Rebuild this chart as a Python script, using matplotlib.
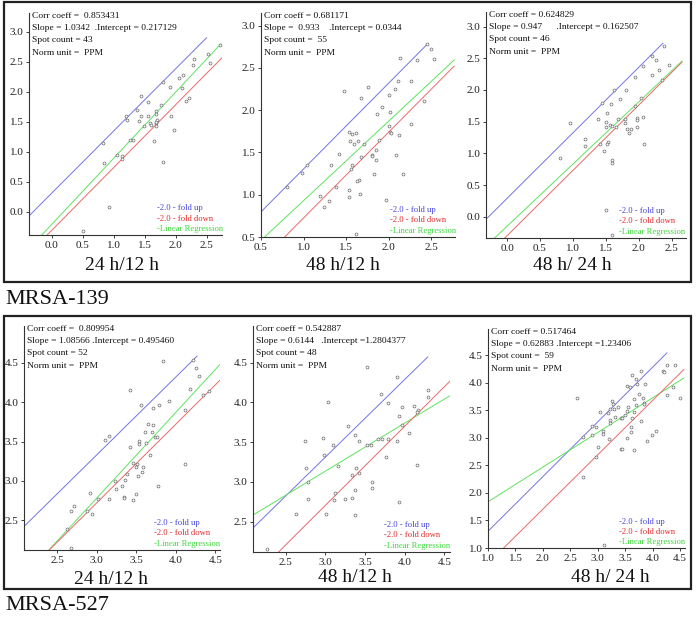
import numpy as np
import matplotlib
matplotlib.use('Agg')
import matplotlib.pyplot as plt
from matplotlib.patches import Rectangle

plt.rcParams['font.family'] = ['Liberation Serif', 'DejaVu Serif']

# ---- data ----
# MRSA-139, 24 h/12 h
p1_x = [2.72, 2.53, 2.55, 2.30, 2.28, 2.12, 2.06, 1.91, 1.79, 2.10, 1.44, 2.22, 2.17, 1.77, 1.56,
        1.38, 1.68, 1.68, 1.20, 1.21, 1.44, 1.56, 1.41, 1.70, 1.92, 1.49, 1.59, 1.61, 1.68, 1.69,
        1.97, 1.31, 1.26, 1.65, 0.82, 1.05, 1.13, 1.13, 0.84, 1.79, 0.93, 0.50, 1.69]
p1_y = [2.78, 2.62, 2.48, 2.54, 2.45, 2.28, 2.23, 2.08, 2.16, 2.06, 1.93, 1.90, 1.84, 1.78, 1.83,
        1.69, 1.68, 1.62, 1.59, 1.53, 1.59, 1.59, 1.51, 1.53, 1.59, 1.43, 1.47, 1.44, 1.47, 1.49,
        1.36, 1.20, 1.19, 1.17, 1.15, 0.94, 0.93, 0.88, 0.81, 0.82, 0.08, -0.32, 1.43]
# MRSA-139, 48 h/12 h
p2_x = [2.45, 2.50, 2.53, 2.13, 2.33, 1.48, 1.76, 1.68, 2.26, 2.11, 2.08, 2.00, 2.41, 1.92, 1.86,
        2.02, 2.01, 2.26, 2.02, 2.03, 1.54, 1.57, 1.62, 1.64, 1.55, 1.59, 1.71, 2.12, 1.89, 1.42,
        1.68, 1.81, 1.81, 1.85, 2.09, 1.85, 1.04, 0.98, 1.32, 1.57, 1.56, 1.83, 2.17, 1.38, 1.19,
        1.30, 1.24, 1.65, 1.63, 1.54, 1.54, 1.66, 1.97, 1.62, 0.81]
p2_y = [2.78, 2.72, 2.61, 2.62, 2.59, 2.23, 2.27, 2.14, 2.35, 2.34, 2.25, 2.18, 2.11, 2.04, 1.96,
        1.98, 1.81, 1.84, 1.74, 1.73, 1.74, 1.72, 1.73, 1.64, 1.63, 1.60, 1.60, 1.71, 1.65, 1.48,
        1.45, 1.47, 1.46, 1.41, 1.47, 1.53, 1.35, 1.26, 1.35, 1.35, 1.30, 1.25, 1.25, 1.09, 0.99,
        0.92, 0.86, 1.18, 1.16, 1.06, 0.97, 1.01, 0.94, 0.53, 1.09]
# MRSA-139, 48 h/ 24 h
p3_x = [2.39, 2.46, 2.21, 2.27, 2.31, 2.06, 2.21, 2.35, 1.95, 1.62, 1.81, 2.03, 1.71, 1.58, 1.45,
        1.95, 1.52, 0.96, 1.38, 1.68, 1.80, 1.98, 1.98, 2.06, 1.51, 1.56, 1.50, 1.60, 1.65, 1.79,
        1.83, 1.88, 1.85, 1.98, 1.19, 1.19, 1.41, 1.54, 1.52, 2.08, 1.47, 1.60, 1.59, 0.80, 1.50,
        1.59]
p3_y = [2.69, 2.40, 2.53, 2.47, 2.32, 2.38, 2.23, 2.16, 2.20, 2.00, 2.00, 1.88, 1.85, 1.78, 1.79,
        1.74, 1.64, 1.48, 1.54, 1.54, 1.54, 1.56, 1.53, 1.57, 1.50, 1.44, 1.42, 1.43, 1.41, 1.48,
        1.39, 1.39, 1.32, 1.42, 1.23, 1.12, 1.14, 1.18, 1.15, 1.14, 1.04, 0.90, 0.85, 0.93, 0.10,
        -0.29]
# MRSA-527, 24 h/12 h
p4_x = [4.22, 4.25, 4.30, 3.84, 3.42, 4.18, 4.34, 4.42, 3.56, 3.79, 3.91, 3.71, 4.12, 3.65, 3.71,
        3.61, 3.74, 3.76, 3.53, 3.54, 3.62, 3.15, 3.10, 3.42, 3.68, 3.46, 3.51, 3.50, 3.59, 3.52,
        3.57, 4.12, 3.38, 3.23, 3.36, 3.32, 3.24, 3.78, 3.50, 3.34, 3.35, 3.16, 3.46, 3.02, 2.91,
        2.71, 2.68, 2.88, 2.94, 2.62, 2.67, 3.70]
p4_y = [4.54, 4.43, 4.33, 4.52, 4.15, 4.17, 4.09, 4.14, 3.97, 3.97, 4.01, 3.93, 3.90, 3.72, 3.71,
        3.62, 3.56, 3.56, 3.51, 3.47, 3.48, 3.57, 3.52, 3.43, 3.33, 3.23, 3.21, 3.17, 3.18, 3.06,
        3.11, 3.22, 3.09, 3.00, 3.01, 2.94, 2.90, 2.93, 2.83, 2.80, 2.78, 2.77, 2.75, 2.77, 2.84,
        2.68, 2.61, 2.61, 2.58, 2.39, 2.15, 3.62]
# MRSA-527, 48 h/12 h
p5_x = [3.52, 3.90, 3.70, 3.03, 3.79, 3.96, 4.12, 4.29, 4.29, 4.17, 3.93, 3.96, 4.05, 3.28, 3.37,
        2.74, 2.97, 3.10, 3.42, 3.53, 3.58, 3.66, 3.71, 3.90, 3.77, 4.16, 2.99, 2.76, 3.16, 3.39,
        3.42, 3.33, 2.78, 3.59, 3.59, 3.37, 3.12, 3.11, 3.25, 3.34, 2.78, 3.93, 3.37, 3.01, 2.63,
        2.27, 3.79, 4.15]
p5_y = [4.45, 4.32, 4.11, 4.00, 3.99, 3.94, 3.96, 4.15, 4.07, 3.91, 3.83, 3.71, 3.61, 3.70, 3.59,
        3.51, 3.55, 3.47, 3.51, 3.46, 3.47, 3.54, 3.54, 3.51, 3.32, 3.21, 3.34, 3.18, 3.20, 3.17,
        3.11, 3.09, 3.00, 3.00, 2.93, 2.90, 2.86, 2.77, 2.78, 2.80, 2.78, 2.75, 2.58, 2.60, 2.60,
        2.16, 3.54, 3.88]
# MRSA-527, 48 h/ 24 h
p6_x = [4.26, 4.40, 4.18, 4.20, 3.78, 3.63, 3.69, 3.72, 3.87, 3.53, 3.59, 4.38, 4.27, 4.49, 3.75,
        3.83, 2.63, 3.66, 3.85, 3.84, 3.69, 3.55, 3.26, 3.28, 3.05, 3.22, 3.29, 3.36, 3.18, 3.53,
        3.66, 3.63, 3.49, 3.42, 3.45, 3.23, 3.31, 3.22, 2.90, 2.96, 3.09, 3.10, 3.60, 3.60, 3.78,
        2.90, 2.73, 3.20, 3.53, 3.00, 3.42, 3.44, 3.66, 3.89, 4.06, 3.98, 2.96, 2.73, 3.11]
p6_y = [4.32, 4.32, 4.22, 4.20, 4.21, 4.15, 4.07, 3.98, 3.98, 3.95, 3.93, 3.93, 3.78, 3.73, 3.79,
        3.73, 3.73, 3.70, 3.64, 3.61, 3.60, 3.56, 3.67, 3.62, 3.47, 3.52, 3.53, 3.57, 3.45, 3.49,
        3.47, 3.37, 3.42, 3.37, 3.36, 3.33, 3.38, 3.27, 3.21, 3.19, 3.13, 3.08, 3.19, 3.11, 3.30,
        3.05, 3.02, 2.99, 3.00, 2.84, 2.80, 2.80, 2.79, 2.94, 3.13, 3.05, 2.65, 2.29, 1.05]

# lines as seen in the picture: (slope, intercept, x_from, x_to) for fold up / regression / fold down
p1_lines = [(1.035, 0.31, -0.37, 2.50), (1.10, -0.21, -0.37, 2.73), (1.045, -0.31, -0.37, 2.76)]
p2_lines = [(1.015, 0.29, 0.50, 2.45), (0.94, -0.01, 0.50, 2.77), (1.015, -0.29, 0.50, 2.77)]
p3_lines = [(1.033, 0.29, -0.32, 2.37), (0.98, -0.15, -0.32, 2.66), (1.03, -0.30, -0.32, 2.66)]
p4_lines = [(0.99, 0.36, 2.08, 4.27), (1.09, -0.49, 2.08, 4.56), (1.00, -0.28, 2.08, 4.56)]
p5_lines = [(0.977, 0.38, 2.09, 4.29), (0.605, 1.32, 2.09, 4.57), (0.995, -0.28, 2.09, 4.57)]
p6_lines = [(0.994, 0.31, 1.00, 4.26), (0.63, 1.21, 1.00, 4.57), (0.988, -0.27, 1.00, 4.57)]

p1_stats = ["Corr coeff =  0.853431", "Slope = 1.0342  .Intercept = 0.217129",
            "Spot count = 43", "Norm unit =  PPM"]
p2_stats = ["Corr coeff = 0.681171", "Slope =  0.933    .Intercept = 0.0344",
            "Spot count =  55", "Norm unit =  PPM"]
p3_stats = ["Corr coeff = 0.624829", "Slope = 0.947      .Intercept = 0.162507",
            "Spot count = 46", "Norm unit =  PPM"]
p4_stats = ["Corr coeff =  0.809954", "Slope = 1.08566 .Intercept = 0.495460",
            "Spot count = 52", "Norm unit =  PPM"]
p5_stats = ["Corr coeff = 0.542887", "Slope = 0.6144   .Intercept =1.2804377",
            "Spot count = 48", "Norm unit =  PPM"]
p6_stats = ["Corr coeff = 0.517464", "Slope = 0.62883 .Intercept =1.23406",
            "Spot count =  59", "Norm unit =  PPM"]

titles = ["24 h/12 h", "48 h/12 h", "48 h/ 24 h", "24 h/12 h", "48 h/12 h", "48 h/ 24 h"]
groups = ["MRSA-139", "MRSA-527"]
legend_txt = ["-2.0 - fold up", "-2.0 - fold down", "-Linear Regression"]

# ---- layout (pixels in a 696x618 picture) ----
W, H = 696, 618
fig = plt.figure(figsize=(W / 100, H / 100), dpi=100)


def px_box(l, t, r, b):
    return [l / W, 1 - b / H, (r - l) / W, (b - t) / H]


boxes = [(29, 13, 222, 235), (261, 13, 455, 237), (486, 12, 686, 238),
         (24, 326, 220, 550), (253, 326, 450, 552), (488, 329, 685, 548)]
lims = [((-0.37, 2.75), (-0.39, 3.31)), ((0.5, 2.78), (0.5, 3.15)), ((-0.32, 2.72), (-0.335, 3.23)),
        ((2.08, 4.56), (2.12, 4.97)), ((2.09, 4.57), (2.12, 4.96)), ((1.0, 4.59), (1.0, 4.98))]
xticks = [np.arange(0, 2.51, 0.5), np.arange(0.5, 2.51, 0.5), np.arange(0, 2.51, 0.5),
          np.arange(2.5, 4.51, 0.5), np.arange(2.5, 4.51, 0.5), np.arange(1.0, 4.51, 0.5)]
yticks = [np.arange(0, 3.01, 0.5), np.arange(0.5, 3.01, 0.5), np.arange(0, 3.01, 0.5),
          np.arange(2.5, 4.51, 0.5), np.arange(2.5, 4.51, 0.5), np.arange(1.0, 4.51, 0.5)]
title_pos = [(122, 266), (343, 266), (572, 266), (111, 579), (355, 578), (610, 578)]

xs = [p1_x, p2_x, p3_x, p4_x, p5_x, p6_x]
ys = [p1_y, p2_y, p3_y, p4_y, p5_y, p6_y]
lines = [p1_lines, p2_lines, p3_lines, p4_lines, p5_lines, p6_lines]
stats = [p1_stats, p2_stats, p3_stats, p4_stats, p5_stats, p6_stats]

line_colors = ['#7474e4', '#5ee35e', '#ea6a6a']
leg_colors = ['#4444d8', '#e02a2a', '#3cd83c']

# outer frames
for (t, b) in [(2, 282), (316, 589)]:
    fig.patches.append(Rectangle((4 / W, 1 - b / H), 687 / W, (b - t) / H, transform=fig.transFigure,
                                 fill=False, lw=1.6, ec='#222222'))

for i in range(6):
    ax = fig.add_axes(px_box(*boxes[i]))
    for s in ['top', 'right']:
        ax.spines[s].set_visible(False)
    for s in ['left', 'bottom']:
        ax.spines[s].set_linewidth(0.8)
        ax.spines[s].set_color('#333333')
    ax.set_xlim(*lims[i][0])
    ax.set_ylim(*lims[i][1])
    ax.set_xticks(xticks[i])
    ax.set_yticks(yticks[i])
    ax.set_xticklabels([f'{v:.1f}' for v in xticks[i]])
    ax.set_yticklabels([f'{v:.1f}' for v in yticks[i]])
    ax.tick_params(direction='out', length=2.5, width=0.6, labelsize=8, pad=1.5, colors='#222222')

    for (k, (m, c, x0, x1)) in enumerate(lines[i]):
        xx = np.array([x0, x1])
        ax.plot(xx, m * xx + c, color=line_colors[k], lw=0.7)

    ax.plot(xs[i], ys[i], 'o', ms=2.1, mfc='white', mec='#6a6a6a', mew=0.5, ls='none')

    for j, s in enumerate(stats[i]):
        ax.annotate(s, xy=(0, 1), xycoords='axes fraction', xytext=(2.5, 1 - j * 8.9),
                    textcoords='offset points', ha='left', va='top', fontsize=6.8, color='#111111')

    for j, (s, col) in enumerate(zip(legend_txt, leg_colors)):
        ax.text(0.665, 0.12 - j * 0.046, s, transform=ax.transAxes, ha='left', va='center',
                fontsize=6.2, color=col)

    tx, ty = title_pos[i]
    fig.text(tx / W, 1 - ty / H, titles[i], ha='center', va='center', fontsize=14, color='#111111')

fig.text(5 / W, 1 - 300 / H, groups[0], ha='left', va='center', fontsize=16, color='#111111')
fig.text(5 / W, 1 - 605 / H, groups[1], ha='left', va='center', fontsize=16, color='#111111')

fig.savefig('out.png', dpi=100)
